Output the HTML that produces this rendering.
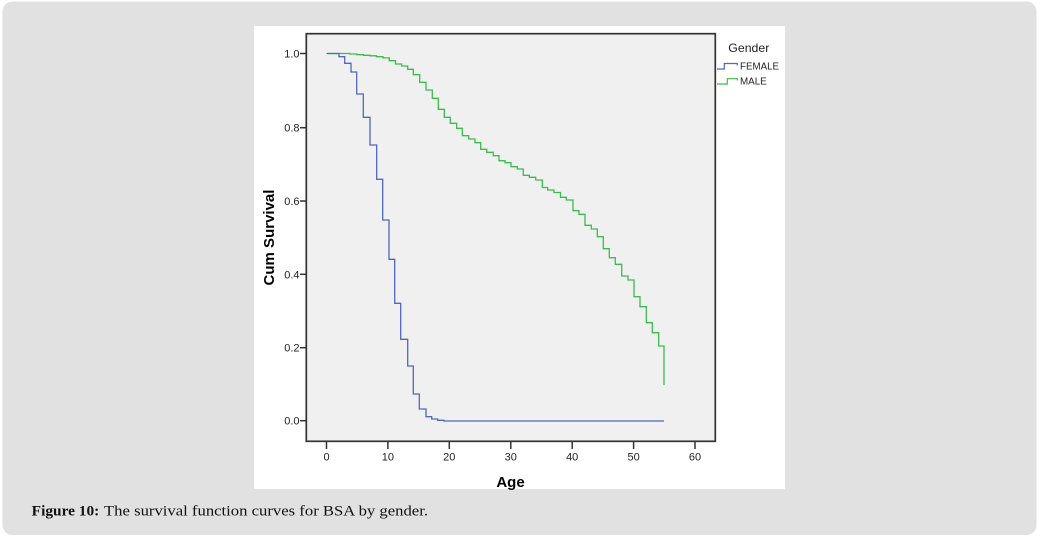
<!DOCTYPE html>
<html>
<head>
<meta charset="utf-8">
<style>
  html,body{margin:0;padding:0;background:#ffffff;}
  body{width:1040px;height:537px;overflow:hidden;}
  svg{display:block;}
  .sans{font-family:"Liberation Sans",Arial,sans-serif;}
  .serif{font-family:"Liberation Serif","Times New Roman",serif;}
</style>
</head>
<body>
<svg width="1040" height="537" viewBox="0 0 1040 537" xmlns="http://www.w3.org/2000/svg">
  <!-- outer frame -->
  <rect x="2.5" y="1.5" width="1034" height="533.5" rx="10" ry="10" fill="#e1e1e1"/>
  <!-- white chart box -->
  <rect x="254" y="26" width="531" height="463" fill="#ffffff"/>
  <!-- plot area -->
  <rect x="306.3" y="33.7" width="409" height="407.6" fill="#f0f0f0" stroke="#333333" stroke-width="1.7"/>

  <!-- Y ticks -->
  <g stroke="#333333" stroke-width="1.5">
    <line x1="300" y1="53.5" x2="306" y2="53.5"/>
    <line x1="300" y1="127.7" x2="306" y2="127.7"/>
    <line x1="300" y1="201" x2="306" y2="201"/>
    <line x1="300" y1="274.3" x2="306" y2="274.3"/>
    <line x1="300" y1="347.7" x2="306" y2="347.7"/>
    <line x1="300" y1="420.7" x2="306" y2="420.7"/>
  </g>
  <g class="sans" font-size="11" fill="#222" text-anchor="end">
    <text x="299.5" y="57.5">1.0</text>
    <text x="299.5" y="131.7">0.8</text>
    <text x="299.5" y="205">0.6</text>
    <text x="299.5" y="278.3">0.4</text>
    <text x="299.5" y="351.7">0.2</text>
    <text x="299.5" y="424.7">0.0</text>
  </g>

  <!-- X ticks -->
  <g stroke="#333333" stroke-width="1.5">
    <line x1="326.5" y1="442" x2="326.5" y2="449"/>
    <line x1="387.9" y1="442" x2="387.9" y2="449"/>
    <line x1="449.3" y1="442" x2="449.3" y2="449"/>
    <line x1="510.8" y1="442" x2="510.8" y2="449"/>
    <line x1="572.2" y1="442" x2="572.2" y2="449"/>
    <line x1="633.6" y1="442" x2="633.6" y2="449"/>
    <line x1="695" y1="442" x2="695" y2="449"/>
  </g>
  <g class="sans" font-size="11" fill="#222" text-anchor="middle">
    <text x="326.5" y="460.5">0</text>
    <text x="387.9" y="460.5">10</text>
    <text x="449.3" y="460.5">20</text>
    <text x="510.8" y="460.5">30</text>
    <text x="572.2" y="460.5">40</text>
    <text x="633.6" y="460.5">50</text>
    <text x="695" y="460.5">60</text>
  </g>

  <!-- axis titles -->
  <text class="sans" x="510.5" y="487" font-size="15" font-weight="bold" fill="#000" text-anchor="middle">Age</text>
  <text class="sans" transform="translate(274,237.5) rotate(-90)" font-size="15" font-weight="bold" fill="#000" text-anchor="middle">Cum Survival</text>

  <!-- Male curve -->
  <path fill="none" stroke="#3cbb4f" stroke-width="1.3" d="M326.7,53.5 H350 V54 H357 V54.7 H363.5 V55.3 H370 V55.8 H376.5 V56.7 H383 V57.9 H389.3 V60.7 H395.5 V64 H401.7 V66 H407.7 V69.3 H413.3 V74.7 H419.7 V82.3 H426 V90 H432.3 V98.3 H438.3 V109.3 H444.3 V117.3 H450.3 V123.3 H456.7 V128.3 H462.3 V135.7 H468.7 V139 H475 V142.7 H480.7 V149.3 H486.7 V152.3 H493.3 V155.7 H499 V160.7 H505 V162.7 H511 V166.7 H517.3 V169 H523.3 V175.3 H529.3 V177.3 H535.7 V180 H542.3 V187.5 H547.7 V190 H554 V192.5 H560.5 V197.3 H566.3 V200 H573 V210.7 H579 V214.3 H585 V225.3 H591.3 V229 H597.3 V236.7 H603.3 V248.7 H609.3 V257.7 H615.3 V264.3 H621.7 V276 H628 V280 H634 V296.7 H640 V306.7 H646.3 V322.7 H652.3 V332.7 H658.7 V346 H664 V385"/>

  <!-- Female curve -->
  <path fill="none" stroke="#5168b9" stroke-width="1.3" d="M326.7,53.5 H339 V56.7 H344.7 V63.3 H351 V72 H356.7 V94 H363.3 V117.3 H370 V145 H376.7 V179.3 H382.7 V220 H389 V259.3 H394.7 V303.3 H400.7 V339.3 H407.7 V366 H413.3 V394 H419.3 V409 H426 V416.7 H431.7 V419 H437.7 V420.3 H444 V421 H664"/>

  <!-- Legend -->
  <text class="sans" x="728.3" y="52" font-size="12" fill="#222" textLength="41" lengthAdjust="spacingAndGlyphs">Gender</text>
  <path fill="none" stroke="#5168b9" stroke-width="1.2" d="M717,69 H724.3 V63.5 H737.3 V65.5"/>
  <path fill="none" stroke="#3cbb4f" stroke-width="1.2" d="M717,84 H727.3 V78.7 H737.3 V80.5"/>
  <text class="sans" x="740" y="69.5" font-size="10.5" fill="#222" textLength="39" lengthAdjust="spacingAndGlyphs">FEMALE</text>
  <text class="sans" x="740" y="84.5" font-size="10.5" fill="#222" textLength="26.7" lengthAdjust="spacingAndGlyphs">MALE</text>

  <!-- Caption -->
  <text class="serif" x="31.7" y="515.7" font-size="15" font-weight="bold" fill="#111" textLength="67.6" lengthAdjust="spacingAndGlyphs">Figure 10:</text>
  <text class="serif" x="104" y="515.7" font-size="15" fill="#111" textLength="324" lengthAdjust="spacingAndGlyphs">The survival function curves for BSA by gender.</text>
</svg>
</body>
</html>
